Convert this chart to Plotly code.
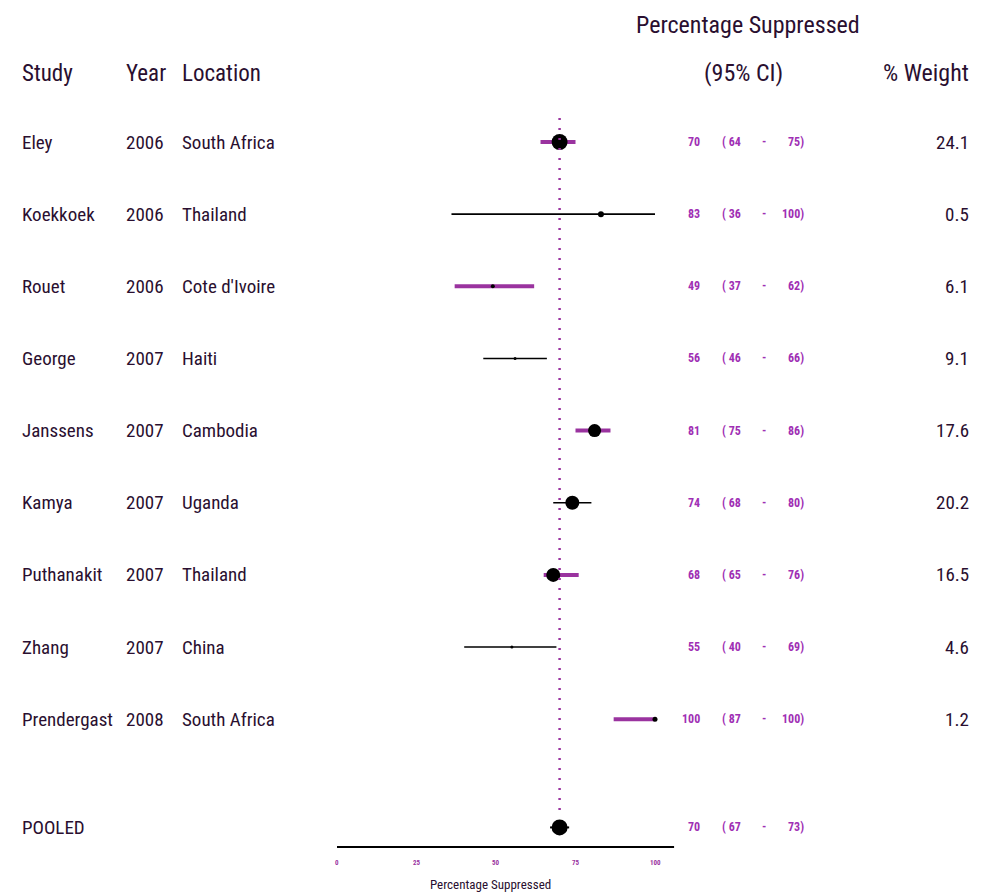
import plotly.graph_objects as go

# ---- data ----
studies = ["Eley", "Koekkoek", "Rouet", "George", "Janssens", "Kamya",
           "Puthanakit", "Zhang", "Prendergast"]
years = ["2006", "2006", "2006", "2007", "2007", "2007", "2007", "2007", "2008"]
locations = ["South Africa", "Thailand", "Cote d'Ivoire", "Haiti", "Cambodia",
             "Uganda", "Thailand", "China", "South Africa"]
estimate = [70, 83, 49, 56, 81, 74, 68, 55, 100]
ci_low = [64, 36, 37, 46, 75, 68, 65, 40, 87]
ci_high = [75, 100, 62, 66, 86, 80, 76, 69, 100]
weight = ["24.1", "0.5", "6.1", "9.1", "17.6", "20.2", "16.5", "4.6", "1.2"]

pooled_label = "POOLED"
pooled_est, pooled_low, pooled_high = 70, 67, 73

axis_ticks = [0, 25, 50, 75, 100]
axis_title = "Percentage Suppressed"

# ---- styling ----
PURPLE = "#9a339f"
CI_TEXT = "#a02fb4"
DARK = "#2a0f30"
FONT = "Liberation Sans Narrow, Roboto Condensed, Arial Narrow, Roboto, sans-serif"
W, H = 986, 893
X0_PX, X100_PX = 337, 655          # pixel positions of 0 and 100 on the scale
ROW0_PX, ROW_STEP = 142, 72.15     # first row centre and row spacing
POOLED_ROW = 9.5

line_colors = [PURPLE, "black"] * 5
line_widths = [4, 1.6] * 5
marker_px = [16, 6, 4, 3, 13, 14, 14, 3, 5]

px_per_unit = (X100_PX - X0_PX) / 100
x_range = [-X0_PX / px_per_unit, (W - X0_PX) / px_per_unit]
y_range = [(H - ROW0_PX) / ROW_STEP, -ROW0_PX / ROW_STEP]


def row_of_px(py):
    return (py - ROW0_PX) / ROW_STEP


fig = go.Figure()

rows = list(range(len(studies)))

# confidence-interval lines
for i in rows:
    fig.add_trace(go.Scatter(
        x=[ci_low[i], ci_high[i]], y=[i, i], mode="lines",
        line=dict(color=line_colors[i], width=line_widths[i]),
        hoverinfo="skip", showlegend=False))

# point estimates
fig.add_trace(go.Scatter(
    x=estimate, y=rows, mode="markers",
    marker=dict(color="black", size=marker_px, symbol="circle", opacity=1,
                line=dict(width=0)),
    showlegend=False))

# pooled estimate
fig.add_trace(go.Scatter(
    x=[pooled_low, pooled_high], y=[POOLED_ROW, POOLED_ROW], mode="lines",
    line=dict(color="black", width=2), showlegend=False, hoverinfo="skip"))
fig.add_trace(go.Scatter(
    x=[pooled_est], y=[POOLED_ROW], mode="markers",
    marker=dict(color="black", size=16, opacity=1, line=dict(width=0)),
    showlegend=False))

# dotted reference line at the pooled estimate
fig.add_shape(type="line", x0=pooled_est, x1=pooled_est,
              y0=row_of_px(118), y1=row_of_px(815),
              line=dict(color=PURPLE, width=2.5, dash="2px,8px"))

# scale line along the bottom
axis_y = row_of_px(847)
fig.add_shape(type="line", x0=axis_ticks[0], x1=axis_ticks[-1] * 1.06,
              y0=axis_y, y1=axis_y, line=dict(color="black", width=2))

annotations = []


def txt(x, y, text, size, color=DARK, xanchor="left", xref="paper", bold=False):
    if bold:
        text = "<b>" + text + "</b>"
    annotations.append(dict(
        x=x if xref == "x" else x / W, y=y, xref=xref, yref="y", text=text,
        showarrow=False, xanchor=xanchor, yanchor="middle",
        font=dict(family=FONT, size=size, color=color)))


for t in axis_ticks:
    txt(t, row_of_px(863), str(t), 7, PURPLE, "center", xref="x", bold=True)
txt(490, row_of_px(884), axis_title, 13, DARK, "center")

# column headers
txt(20, row_of_px(73), "Study", 23)
txt(124, row_of_px(73), "Year", 23)
txt(180, row_of_px(73), "Location", 23)
txt(748, row_of_px(25), "Percentage Suppressed", 24, DARK, "center")
txt(743, row_of_px(73), "(95% CI)", 24, DARK, "center")
txt(971, row_of_px(73), "% Weight", 24, DARK, "right")

# per-study text columns
for i in rows:
    txt(20, i, studies[i], 19)
    txt(124, i, years[i], 19)
    txt(180, i, locations[i], 19)
    txt(702, i, str(estimate[i]), 12, CI_TEXT, "right", bold=True)
    txt(720, i, "( " + str(ci_low[i]), 12, CI_TEXT, "left", bold=True)
    txt(764, i, "-", 12, CI_TEXT, "center", bold=True)
    txt(806, i, str(ci_high[i]) + ")", 12, CI_TEXT, "right", bold=True)
    txt(971, i, weight[i], 19, DARK, "right")

txt(20, POOLED_ROW, pooled_label, 19)
txt(702, POOLED_ROW, str(pooled_est), 12, CI_TEXT, "right", bold=True)
txt(720, POOLED_ROW, "( " + str(pooled_low), 12, CI_TEXT, "left", bold=True)
txt(764, POOLED_ROW, "-", 12, CI_TEXT, "center", bold=True)
txt(806, POOLED_ROW, str(pooled_high) + ")", 12, CI_TEXT, "right", bold=True)

fig.update_layout(
    width=W, height=H, margin=dict(l=0, r=0, t=0, b=0),
    paper_bgcolor="white", plot_bgcolor="white",
    xaxis=dict(range=x_range, visible=False, fixedrange=True),
    yaxis=dict(range=y_range, visible=False, fixedrange=True),
    annotations=annotations, showlegend=False)

fig.write_html("out.html")
